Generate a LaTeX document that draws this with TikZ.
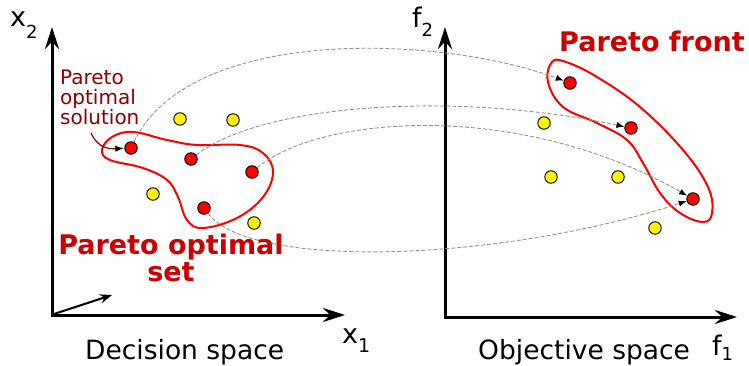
\documentclass[tikz,border=0pt]{standalone}
\usepackage{fontspec}
\setmainfont{DejaVu Sans}
\usetikzlibrary{arrows.meta}
\definecolor{darkred}{HTML}{8B0000}
\definecolor{boldred}{HTML}{CC0000}
\tikzset{
  reddot/.style={circle,draw=black,line width=0.9pt,fill=red,minimum size=12.5pt,inner sep=0pt},
  yellowdot/.style={circle,draw=black,line width=0.9pt,fill=yellow,minimum size=12.5pt,inner sep=0pt},
  axis/.style={line width=3pt,black,{Stealth[length=22pt,width=14pt]}-{Stealth[length=22pt,width=14pt]}},
  mapline/.style={gray!85,line width=0.9pt,dash pattern=on 4pt off 2pt,-{Latex[black,length=8pt,width=6pt]}},
  blob/.style={red,line width=2pt},
  lbl/.style={anchor=base west,inner sep=0pt},
  biglbl/.style={font=\fontsize{27}{27}\selectfont\bfseries,text=boldred,inner sep=0pt},
}
\begin{document}
\begin{tikzpicture}[x=1pt,y=-1pt]
\useasboundingbox (0,0) rectangle (749,366);
% axes
\draw[axis] (52,27) -- (52,315) -- (345,315);
\draw[axis] (445,27) -- (445,317) -- (737,317);
\coordinate (s0) at (54,314);
\coordinate (s1) at (112,295);
\draw[line width=2pt,-{Stealth[length=12pt,width=9pt]}] (s0) -- (s1);
% axis labels
\node[lbl] (x2) at (10,27) {\fontsize{27}{27}\selectfont x\raisebox{-12pt}{\fontsize{18}{18}\selectfont 2}};
\node[lbl] (x1) at (342,343) {\fontsize{27}{27}\selectfont x\raisebox{-9pt}{\fontsize{19}{19}\selectfont 1}};
\node[lbl] (f2) at (412,28) {\fontsize{27}{27}\selectfont f\raisebox{-9pt}{\fontsize{18}{18}\selectfont 2}};
\node[lbl] (f1) at (712,355) {\fontsize{27}{27}\selectfont f\raisebox{-5pt}{\fontsize{18}{18}\selectfont 1}};
\node[lbl] (ds) at (85,359) {\fontsize{26.5}{27}\selectfont Decision space};
\node[lbl] (os) at (478,359) {\fontsize{26.5}{27}\selectfont Objective space};
% blobs
\draw[blob] plot[smooth cycle,tension=0.65] coordinates {(102,150) (112,137) (133,132) (167,140) (197,145) (240,145) (263,153) (273,172) (263,197) (237,218) (203,228) (187,220) (178,197) (167,180) (143,168) (110,160)};
\draw[blob] plot[smooth cycle,tension=0.65] coordinates {(552,62) (566,62) (597,77) (640,107) (683,150) (708,187) (712,213) (703,222) (680,213) (660,193) (643,163) (627,140) (597,123) (563,107) (548,82)};
% decision points
\node[yellowdot] (y1) at (180,119) {};
\node[yellowdot] (y2) at (233,120) {};
\node[yellowdot] (y3) at (153,194) {};
\node[yellowdot] (y4) at (254,223) {};
\node[reddot] (a1) at (131,148) {};
\node[reddot] (a2) at (191,159) {};
\node[reddot] (a3) at (252,172) {};
\node[reddot] (a4) at (204,208) {};
% objective points
\node[yellowdot] (z1) at (544,123) {};
\node[yellowdot] (z2) at (551,177) {};
\node[yellowdot] (z3) at (618,177) {};
\node[yellowdot] (z4) at (655,228) {};
\node[reddot] (b1) at (570,83) {};
\node[reddot] (b2) at (631,128) {};
\node[reddot] (b3) at (693,199) {};
% mappings
\draw[mapline] (a1) .. controls (190,25) and (440,35) .. (b1);
\draw[mapline] (a2) .. controls (260,105) and (450,90) .. (b2);
\draw[mapline] (a3) .. controls (320,115) and (520,100) .. (b3);
\draw[mapline] (a4) .. controls (250,270) and (500,262) .. (b3);
% labels
\node[anchor=north west,inner sep=0pt,align=left,text=darkred,font=\fontsize{20}{20}\selectfont] (pos) at (60,70) {Pareto\\optimal\\solution};
\coordinate (pa) at (91,133);
\draw[darkred,line width=1.2pt,-{Latex[black,length=9pt,width=6pt]}] (pa) .. controls (98,148) and (108,149) .. (a1);
\node[biglbl,align=center,anchor=north] (pset) at (171,234) {Pareto optimal\\set};
\node[biglbl,anchor=north west] (pfront) at (559,31) {Pareto front};
\end{tikzpicture}
\end{document}
